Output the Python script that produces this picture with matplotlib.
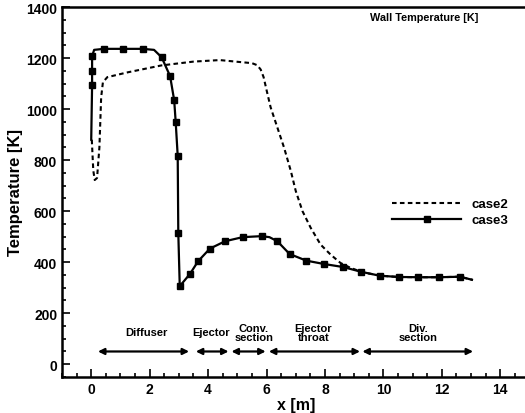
import matplotlib.pyplot as plt
import numpy as np
from matplotlib.ticker import MultipleLocator

plt.rcParams['font.family'] = ['Liberation Sans', 'DejaVu Sans']
plt.rcParams['font.weight'] = 'bold'

# case2 (dashed)
case2_x = [0.02, 0.07, 0.12, 0.2, 0.28, 0.34, 0.4, 0.55, 1.25, 2.4, 3.5, 4.4, 5.12, 5.5, 5.68,
           5.8, 5.9, 6.0, 6.14, 6.37, 6.6, 6.83, 7.0, 7.23, 7.51, 7.85, 8.19, 8.53, 8.87, 9.3,
           9.9, 10.5, 11.2, 11.9, 12.6, 13.05]
case2_y = [880, 760, 722, 730, 850, 1046, 1105, 1125, 1144, 1171, 1186, 1192, 1184, 1180, 1172,
           1155, 1125, 1075, 1007, 928, 849, 758, 679, 600, 535, 469, 430, 397, 378, 360,
           347, 342, 341, 341, 343, 331]

# case3 (solid + squares)
case3_x = [0.0, 0.03, 0.03, 0.03, 0.1, 0.43, 1.08, 1.76, 2.15, 2.41, 2.70, 2.84, 2.89, 2.96, 2.98,
           3.03, 3.38, 3.66, 4.06, 4.58, 5.18, 5.83, 6.1, 6.37, 6.79, 7.36, 7.96, 8.62, 9.25,
           9.87, 10.52, 11.2, 11.91, 12.63, 13.03]
case3_y = [880, 1093, 1148, 1207, 1232, 1236, 1236, 1236, 1232, 1203, 1129, 1034, 951, 817, 515,
           306, 354, 404, 453, 482, 498, 502, 498, 482, 432, 406, 393, 381, 362,
           347, 342, 341, 341, 343, 331]
case3_mark = [1, 2, 3, 5, 6, 7, 9, 10, 11, 12, 13, 14, 15, 16, 17, 18, 19, 20, 21, 23, 24, 25, 26,
              27, 28, 29, 30, 31, 32, 33]

# section arrows: (start, end, label, label x)
sections = [(0.23, 3.35, "Diffuser", 1.88),
            (3.58, 4.7, "Ejector", 4.1),
            (4.8, 5.97, "Conv.\nsection", 5.56),
            (6.08, 9.2, "Ejector\nthroat", 7.6),
            (9.28, 13.07, "Div.\nsection", 11.2)]

fig = plt.figure(figsize=(5.25, 4.14), dpi=100)
ax = fig.add_axes([62 / 525, 36 / 414, 467.5 / 525, 370 / 414])

ax.plot(case2_x, case2_y, color='black', lw=1.5, ls=(0, (2.2, 1.6)), label='case2')
ax.plot(case3_x, case3_y, color='black', lw=1.6, marker='s', ms=4.5,
        markevery=case3_mark, label='case3')

for x0, x1, lab, lx in sections:
    ax.annotate('', xy=(x1, 50), xytext=(x0, 50),
                arrowprops=dict(arrowstyle='<|-|>', color='black', lw=1.6,
                                mutation_scale=9, shrinkA=0, shrinkB=0))
    ax.text(lx, 125, lab, ha='center', va='center', fontsize=8, fontweight='bold',
            linespacing=0.95)

ax.text(11.4, 1360, "Wall Temperature [K]", ha='center', va='center', fontsize=7.8,
        fontweight='bold')

ax.set_xlim(-1, 15)
ax.set_ylim(-50, 1400)
ax.xaxis.set_major_locator(MultipleLocator(2))
ax.xaxis.set_minor_locator(MultipleLocator(0.5))
ax.yaxis.set_major_locator(MultipleLocator(200))
ax.yaxis.set_minor_locator(MultipleLocator(50))
ax.tick_params(which='both', direction='in', width=1.2, labelsize=10)
ax.tick_params(which='major', length=6)
ax.tick_params(which='minor', length=3)
for lbl in ax.get_xticklabels() + ax.get_yticklabels():
    lbl.set_fontweight('bold')
for s in ['left', 'bottom', 'top']:
    ax.spines[s].set_linewidth(1.8)
ax.spines['right'].set_visible(False)

ax.set_xlabel("x [m]", fontsize=11.5, fontweight='bold', labelpad=1)
ax.set_ylabel("Temperature [K]", fontsize=12, fontweight='bold', labelpad=2)

ax.legend(loc='upper left', bbox_to_anchor=(0.681, 0.516), frameon=False, fontsize=9.5,
          handlelength=5.2, handletextpad=0.8, labelspacing=0.3)

fig.savefig('out.png', dpi=100)
